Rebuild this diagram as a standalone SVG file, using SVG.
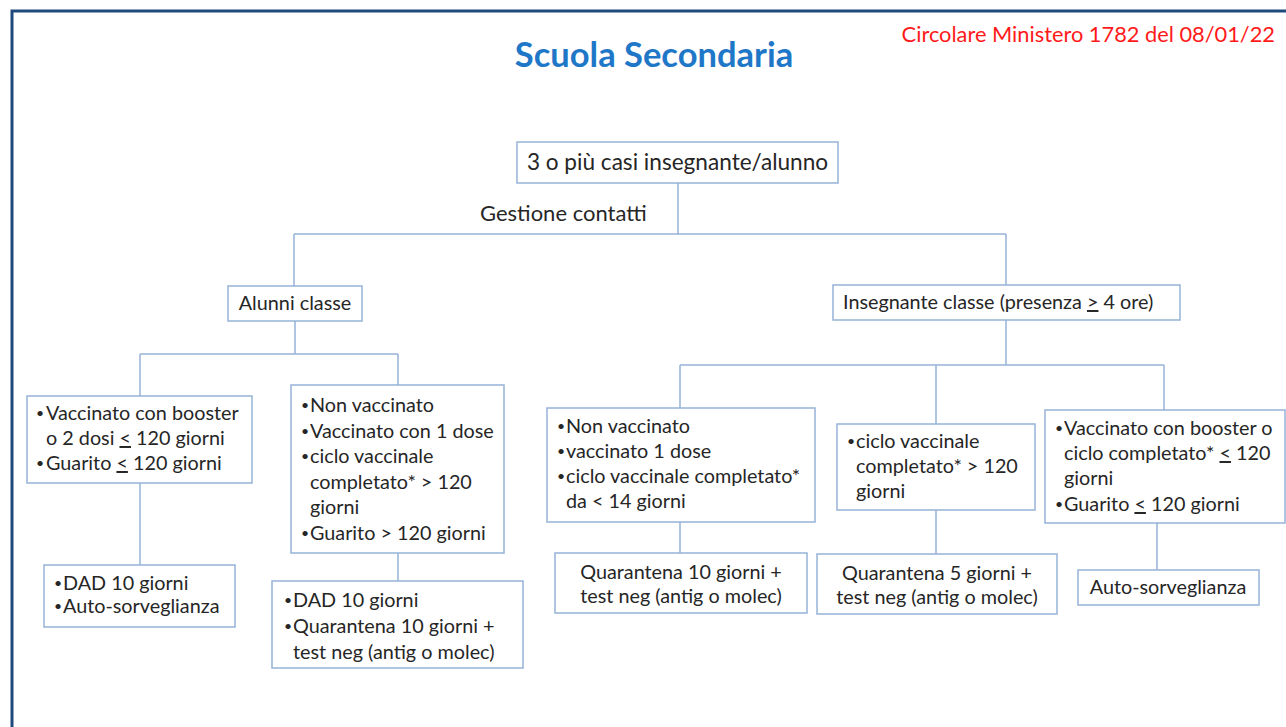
<svg xmlns="http://www.w3.org/2000/svg" width="1286" height="727" viewBox="0 0 1286 727">
<style>
.box{fill:#fff;stroke:#95B3D7;stroke-width:1.5}
.conn{fill:none;stroke:#95B3D7;stroke-width:1.5}
text{font-family:Lato,"Liberation Sans",sans-serif;font-size:19.8px;fill:#262626}
.c{text-anchor:middle}
.u{text-decoration:underline}
.b{font-size:14px}
</style>
<rect width="1286" height="727" fill="#fff"/>
<path d="M12 727 V11 H1286" fill="none" stroke="#1F497D" stroke-width="3"/>
<text x="1275" y="42" style="font-size:21.8px;fill:#FF1A1A;text-anchor:end">Circolare Ministero 1782 del 08/01/22</text>
<text x="654" y="67" class="c" style="font-size:34.5px;font-weight:bold;fill:#1F77C8">Scuola Secondaria</text>
<text x="480" y="221" style="font-size:22px">Gestione contatti</text>
<g id="connectors">
<path class="conn" d="M678 183 V234 M294 234 H1006 M294 234 V286 M1006 234 V285"/>
<path class="conn" d="M295 321 V354 M140 354 H398 M140 354 V396 M398 354 V385"/>
<path class="conn" d="M1006 320 V365 M680 365 H1164 M680 365 V408 M936 365 V424 M1164 365 V410"/>
<path class="conn" d="M140 483 V565 M398 553 V581 M680 522 V553 M936 510 V554 M1157 523 V570"/>
</g>
<g id="root"><rect class="box" x="517" y="142" width="321" height="41"/>
<text x="677.5" y="170" class="c" style="font-size:22.6px">3 o più casi insegnante/alunno</text></g>
<g id="alunni"><rect class="box" x="228" y="286" width="134" height="35"/>
<text x="295" y="310" class="c">Alunni classe</text></g>
<g id="insegnante"><rect class="box" x="833" y="285" width="347" height="35"/>
<text x="843" y="309">Insegnante classe (presenza <tspan class="u">&gt;</tspan> 4 ore)</text></g>
<g id="a1"><rect class="box" x="27" y="396" width="225" height="87"/>
<text x="36" y="418" class="b">•</text><text x="46" y="420">Vaccinato con booster</text>
<text x="46" y="445">o 2 dosi <tspan class="u">&lt;</tspan> 120 giorni</text>
<text x="36" y="468" class="b">•</text><text x="46" y="470">Guarito <tspan class="u">&lt;</tspan> 120 giorni</text></g>
<g id="a2"><rect class="box" x="44" y="565" width="191" height="62"/>
<text x="54" y="588" class="b">•</text><text x="63" y="590">DAD 10 giorni</text>
<text x="54" y="611" class="b">•</text><text x="63" y="613">Auto-sorveglianza</text></g>
<g id="b1"><rect class="box" x="291" y="385" width="213" height="168"/>
<text x="301" y="410" class="b">•</text><text x="310" y="412">Non vaccinato</text>
<text x="301" y="436" class="b">•</text><text x="310" y="438">Vaccinato con 1 dose</text>
<text x="301" y="461" class="b">•</text><text x="310" y="463">ciclo vaccinale</text>
<text x="310" y="489">completato* &gt; 120</text>
<text x="310" y="514">giorni</text>
<text x="301" y="538" class="b">•</text><text x="310" y="540">Guarito &gt; 120 giorni</text></g>
<g id="b2"><rect class="box" x="272" y="581" width="251" height="87"/>
<text x="284" y="605" class="b">•</text><text x="293" y="607">DAD 10 giorni</text>
<text x="284" y="631" class="b">•</text><text x="293" y="633">Quarantena 10 giorni +</text>
<text x="293" y="659">test neg (antig o molec)</text></g>
<g id="c1"><rect class="box" x="547" y="408" width="268" height="114"/>
<text x="557" y="431" class="b">•</text><text x="566" y="433">Non vaccinato</text>
<text x="557" y="456" class="b">•</text><text x="566" y="458">vaccinato 1 dose</text>
<text x="557" y="481" class="b">•</text><text x="566" y="483">ciclo vaccinale completato*</text>
<text x="566" y="508">da &lt; 14 giorni</text></g>
<g id="c2"><rect class="box" x="555" y="553" width="252" height="60"/>
<text x="681" y="579" class="c">Quarantena 10 giorni +</text>
<text x="681" y="603" class="c">test neg (antig o molec)</text></g>
<g id="d1"><rect class="box" x="837" y="424" width="198" height="86"/>
<text x="847" y="446" class="b">•</text><text x="856" y="448">ciclo vaccinale</text>
<text x="856" y="473">completato* &gt; 120</text>
<text x="856" y="498">giorni</text></g>
<g id="d2"><rect class="box" x="817" y="554" width="240" height="60"/>
<text x="937" y="580" class="c">Quarantena 5 giorni +</text>
<text x="937" y="604" class="c">test neg (antig o molec)</text></g>
<g id="e1"><rect class="box" x="1045" y="410" width="240" height="113"/>
<text x="1055" y="433" class="b">•</text><text x="1064" y="435">Vaccinato con booster o</text>
<text x="1064" y="460">ciclo completato*  <tspan class="u">&lt;</tspan> 120</text>
<text x="1064" y="485">giorni</text>
<text x="1055" y="509" class="b">•</text><text x="1064" y="511">Guarito <tspan class="u">&lt;</tspan> 120 giorni</text></g>
<g id="e2"><rect class="box" x="1078" y="570" width="181" height="35"/>
<text x="1168" y="594" class="c">Auto-sorveglianza</text></g>
</svg>
